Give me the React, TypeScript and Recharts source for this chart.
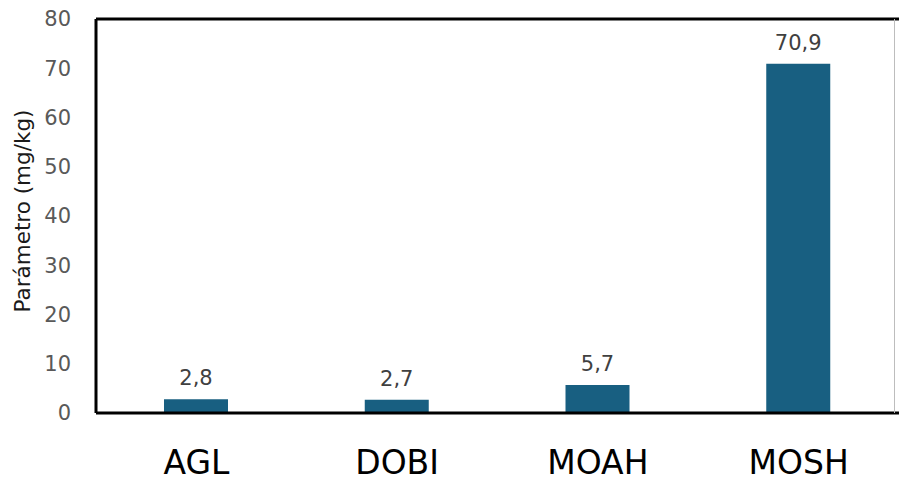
import { BarChart, Bar, XAxis, YAxis, LabelList, ReferenceLine } from 'recharts';

const categories = ['AGL', 'DOBI', 'MOAH', 'MOSH'];
const values = [2.8, 2.7, 5.7, 70.9];
const yTicks = [0, 10, 20, 30, 40, 50, 60, 70, 80];

const data = categories.map((name, i) => ({ name, value: values[i] }));

const BAR_COLOR = '#185f81';
const FONT = '"DejaVu Sans", Verdana, sans-serif';

// rotated y axis title
const YTitle = () => (
  <text
    x={22}
    y={211}
    transform="rotate(-90 22 211)"
    textAnchor="middle"
    dominantBaseline="central"
    fontSize={21.5}
    fill="#1a1a1a"
    fontFamily={FONT}
  >
    Parámetro (mg/kg)
  </text>
);

// category label, centred on a fixed line so it stays inside the frame
const CategoryTick = ({ x, y, payload }: { x?: number; y?: number; payload?: { value: string } }) => (
  <text
    x={x}
    y={(y ?? 0) + 47}
    textAnchor="middle"
    dominantBaseline="central"
    fontSize={33}
    fill="#000"
    fontFamily={FONT}
  >
    {payload?.value}
  </text>
);

export default function App() {
  return (
    <div style={{ position: 'absolute', left: 0, top: 0, width: 899, height: 482, background: '#fff' }}>
      <BarChart
        width={899}
        height={482}
        data={data}
        margin={{ top: 19, right: 0, left: 0, bottom: 0 }}
      >
        <XAxis
          dataKey="name"
          height={69}
          axisLine={{ stroke: '#000', strokeWidth: 3 }}
          tickLine={false}
          tickSize={0}
          tick={<CategoryTick />}
        />
        <YAxis
          width={96}
          domain={[0, 80]}
          ticks={yTicks}
          interval={0}
          axisLine={{ stroke: '#000', strokeWidth: 3 }}
          tickLine={false}
          tickSize={0}
          tickMargin={25}
          tick={{ fontSize: 21, fill: '#595959', fontFamily: FONT }}
          label={<YTitle />}
        />
        <ReferenceLine y={80} stroke="#000" strokeWidth={3} />
        <Bar dataKey="value" fill={BAR_COLOR} barSize={64} isAnimationActive={false}>
          <LabelList
            dataKey="value"
            position="top"
            offset={14}
            formatter={(v: number) => String(v).replace('.', ',')}
            style={{ fontSize: 21, fill: '#404040', fontFamily: FONT }}
          />
        </Bar>
      </BarChart>
      <div style={{ position: 'absolute', left: 894, top: 19, width: 1, height: 394, background: '#bdbdbd' }} />
    </div>
  );
}
